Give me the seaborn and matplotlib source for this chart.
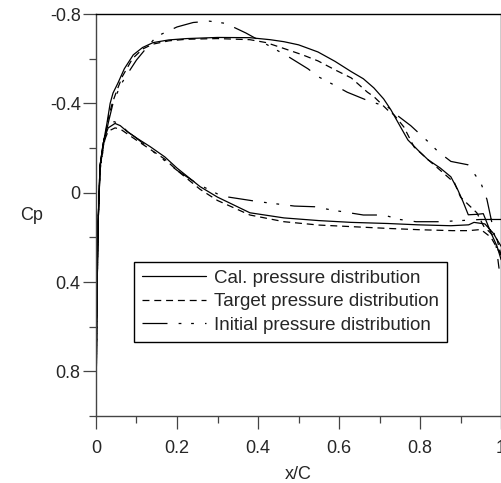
import numpy as np
import pandas as pd
import matplotlib
matplotlib.use("Agg")
import matplotlib.pyplot as plt
import seaborn as sns
from matplotlib.ticker import FixedLocator

# %%
# Cal. pressure distribution (upper / lower surface)
cal_x_upper = [0.0, 0.002, 0.005, 0.01, 0.017, 0.027, 0.035, 0.042, 0.054, 0.07, 0.092,
               0.115, 0.141, 0.18, 0.224, 0.3, 0.38, 0.43, 0.464, 0.5, 0.548, 0.59, 0.63,
               0.66, 0.686, 0.71, 0.728, 0.75, 0.77, 0.795, 0.82, 0.85, 0.876, 0.893,
               0.906, 0.919, 0.94, 0.956, 0.975, 0.99, 1.0]
cal_cp_upper = [1.0, 0.55, 0.15, -0.12, -0.21, -0.31, -0.40, -0.446, -0.49, -0.555, -0.617,
                -0.65, -0.672, -0.684, -0.69, -0.695, -0.694, -0.685, -0.676, -0.662, -0.63,
                -0.588, -0.542, -0.51, -0.469, -0.42, -0.371, -0.30, -0.236, -0.19, -0.147,
                -0.11, -0.071, -0.013, 0.04, 0.099, 0.097, 0.094, 0.18, 0.24, 0.30]
cal_x_lower = [0.0, 0.002, 0.005, 0.01, 0.02, 0.03, 0.047, 0.06, 0.076, 0.1, 0.133, 0.17,
               0.2, 0.257, 0.3, 0.38, 0.464, 0.55, 0.63, 0.72, 0.795, 0.876, 0.92, 0.933,
               0.96, 0.98, 1.0]
cal_cp_lower = [1.0, 0.55, 0.15, -0.12, -0.24, -0.29, -0.31, -0.30, -0.275, -0.245, -0.207,
                -0.16, -0.11, -0.027, 0.02, 0.09, 0.113, 0.125, 0.133, 0.138, 0.144, 0.148,
                0.144, 0.133, 0.14, 0.18, 0.24]

# Target pressure distribution
tgt_x_upper = [0.0, 0.002, 0.005, 0.01, 0.02, 0.03, 0.04, 0.05, 0.065, 0.09, 0.115, 0.14,
               0.18, 0.224, 0.3, 0.38, 0.42, 0.46, 0.51, 0.548, 0.59, 0.63, 0.67, 0.686,
               0.72, 0.736, 0.76, 0.785, 0.82, 0.85, 0.885, 0.9, 0.94, 0.957, 0.99, 1.0]
tgt_cp_upper = [1.0, 0.55, 0.15, -0.11, -0.23, -0.33, -0.40, -0.45, -0.52, -0.60, -0.643,
                -0.665, -0.68, -0.687, -0.69, -0.685, -0.672, -0.648, -0.617, -0.59, -0.55,
                -0.514, -0.45, -0.43, -0.37, -0.348, -0.294, -0.205, -0.147, -0.10, -0.044,
                0.02, 0.09, 0.15, 0.21, 0.28]
tgt_x_lower = [0.0, 0.002, 0.005, 0.01, 0.02, 0.03, 0.047, 0.06, 0.076, 0.1, 0.133, 0.17,
               0.2, 0.257, 0.3, 0.38, 0.464, 0.55, 0.63, 0.72, 0.8, 0.88, 0.92, 0.95,
               0.975, 1.0]
tgt_cp_lower = [1.0, 0.55, 0.15, -0.11, -0.23, -0.275, -0.29, -0.285, -0.265, -0.235, -0.195,
                -0.15, -0.10, -0.015, 0.035, 0.10, 0.13, 0.145, 0.152, 0.16, 0.166, 0.17,
                0.17, 0.165, 0.2, 0.28]

# Initial pressure distribution
ini_x_upper = [0.0, 0.002, 0.005, 0.01, 0.02, 0.03, 0.042, 0.06, 0.077, 0.1, 0.13, 0.15,
               0.2, 0.24, 0.28, 0.32, 0.37, 0.42, 0.474, 0.523, 0.55, 0.59, 0.62, 0.674,
               0.72, 0.748, 0.777, 0.82, 0.845, 0.876, 0.918, 0.95, 0.965, 0.985, 0.995]
ini_cp_upper = [1.0, 0.55, 0.15, -0.10, -0.22, -0.31, -0.40, -0.48, -0.53, -0.594, -0.66,
                -0.70, -0.742, -0.762, -0.768, -0.758, -0.715, -0.665, -0.61, -0.555,
                -0.518, -0.48, -0.45, -0.41, -0.384, -0.34, -0.30, -0.228, -0.183, -0.14,
                -0.125, -0.044, 0.03, 0.2, 0.34]
ini_x_lower = [0.0, 0.002, 0.005, 0.01, 0.02, 0.03, 0.045, 0.06, 0.08, 0.096, 0.13, 0.2,
               0.25, 0.31, 0.4, 0.49, 0.54, 0.58, 0.66, 0.71, 0.75, 0.79, 0.85, 0.9, 0.95,
               1.0]
ini_cp_lower = [1.0, 0.55, 0.15, -0.12, -0.25, -0.30, -0.318, -0.305, -0.27, -0.25, -0.2,
                -0.1, -0.04, 0.015, 0.04, 0.06, 0.063, 0.077, 0.10, 0.10, 0.12, 0.13, 0.13,
                0.125, 0.12, 0.12]

labels = ["Cal. pressure distribution", "Target pressure distribution",
          "Initial pressure distribution"]

x_ticks = [0, 0.2, 0.4, 0.6, 0.8, 1.0]
x_tick_labels = ["0", "0.2", "0.4", "0.6", "0.8", "1"]
y_ticks = [-0.8, -0.4, 0, 0.4, 0.8]
y_tick_labels = ["-0.8", "-0.4", "0", "0.4", "0.8"]


# %%
def surface_frame(x_up, cp_up, x_lo, cp_lo, name):
    # trailing edge -> leading edge on the lower side, then back along the upper side
    x = list(reversed(x_lo)) + list(x_up)
    cp = list(reversed(cp_lo)) + list(cp_up)
    return pd.DataFrame({"x": x, "cp": cp, "series": name})


data = pd.concat([
    surface_frame(cal_x_upper, cal_cp_upper, cal_x_lower, cal_cp_lower, labels[0]),
    surface_frame(tgt_x_upper, tgt_cp_upper, tgt_x_lower, tgt_cp_lower, labels[1]),
    surface_frame(ini_x_upper, ini_cp_upper, ini_x_lower, ini_cp_lower, labels[2]),
])

# %%
sns.set_style("white")
plt.rcParams["font.family"] = ["Liberation Sans", "DejaVu Sans"]
plt.rcParams["lines.scale_dashes"] = False

fig = plt.figure(figsize=(5.02, 4.83), dpi=100)
ax = fig.add_axes([0.1912, 0.1387, 0.807, 0.8323])

dash_styles = {
    labels[0]: "",
    labels[1]: (5, 3.5),
    labels[2]: (18, 8, 2, 7, 2, 8),
}
for name in labels:
    sub = data[data["series"] == name]
    sns.lineplot(data=sub, x="x", y="cp", sort=False, estimator=None, color="black",
                 linewidth=0.9, ax=ax, label=name)
    if dash_styles[name]:
        ax.lines[-1].set_dashes(dash_styles[name])

ax.set_xlim(0, 1.0)
ax.set_ylim(1.0, -0.8)

ax.xaxis.set_major_locator(FixedLocator(x_ticks))
ax.xaxis.set_minor_locator(FixedLocator([0.1, 0.3, 0.5, 0.7, 0.9]))
ax.yaxis.set_major_locator(FixedLocator(y_ticks))
ax.yaxis.set_minor_locator(FixedLocator([-0.6, -0.2, 0.2, 0.6, 1.0]))
ax.set_xticklabels(x_tick_labels)
ax.set_yticklabels(y_tick_labels)

ax.tick_params(which="major", direction="out", length=9.5, width=0.9, color="#444",
               labelsize=13, left=True, bottom=True)
ax.tick_params(which="minor", direction="out", length=5, width=0.9, color="#444",
               left=True, bottom=True)
ax.tick_params(axis="x", which="major", pad=8)
ax.tick_params(axis="y", which="major", pad=1.5)

for side in ["top", "right"]:
    ax.spines[side].set_color("black")
    ax.spines[side].set_linewidth(1.0)
for side in ["left", "bottom"]:
    ax.spines[side].set_color("#444")
    ax.spines[side].set_linewidth(1.0)

ax.set_xlabel("x/C", fontsize=13, labelpad=6)
ax.set_ylabel("Cp", fontsize=13, rotation=0, va="center")
ax.yaxis.set_label_coords(-0.158, 0.5)

leg = ax.legend(loc="upper left", bbox_to_anchor=(0.094, 0.383), borderaxespad=0,
                fontsize=13.5, frameon=True, fancybox=False, framealpha=1,
                edgecolor="black", handlelength=3.4, handletextpad=0.45,
                labelspacing=0.33, borderpad=0.42)
leg.get_frame().set_linewidth(1.0)

fig.savefig("out.png", dpi=100)
